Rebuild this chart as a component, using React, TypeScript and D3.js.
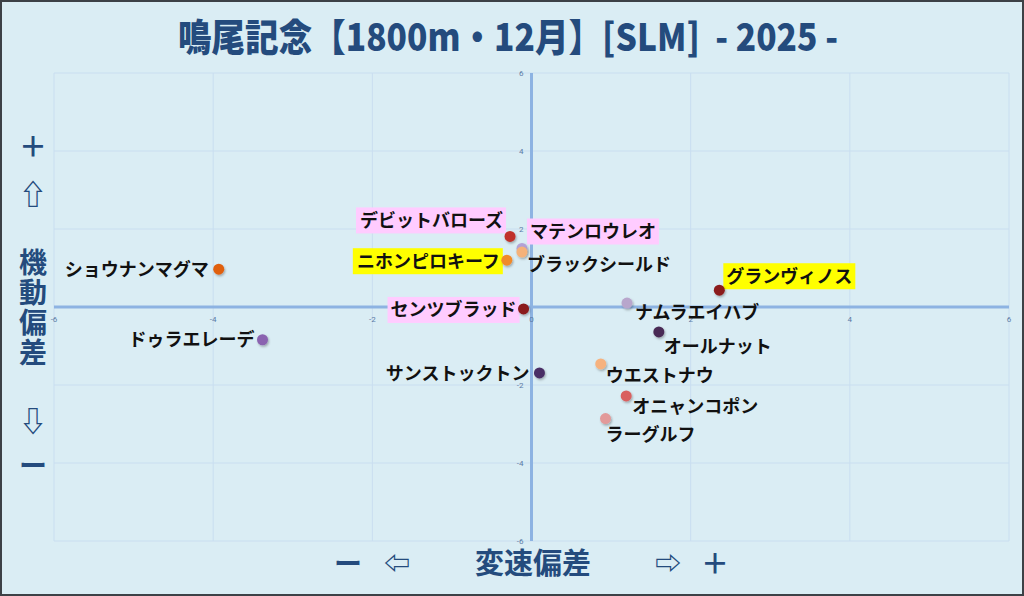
import React from 'react';
import * as d3 from 'd3';

const horses = [
  'デビットバローズ', 'マテンロウレオ', 'ブラックシールド', 'ニホンピロキーフ', 'センツブラッド',
  'ショウナンマグマ', 'ドゥラエレーデ', 'グランヴィノス', 'ナムラエイハブ', 'オールナット',
  'ウエストナウ', 'オニャンコポン', 'ラーグルフ', 'サンストックトン',
];
const speedDev = [-0.27, -0.12, -0.12, -0.31, -0.1, -3.93, -3.38, 2.36, 1.2, 1.6, 0.87, 1.19, 0.93, 0.1];
const mobilityDev = [1.81, 1.5, 1.41, 1.2, -0.05, 0.97, -0.84, 0.43, 0.1, -0.64, -1.46, -2.28, -2.86, -1.69];
const dotColors = [
  '#c0302a', '#b3a2d6', '#f5b27a', '#f08a2c', '#8a1a1a',
  '#e0600f', '#8a63b0', '#8b1c1c', '#b8a6cc', '#4a2a55',
  '#f6b27e', '#d96060', '#e29a9a', '#4a2d65',
];
const labelBg = ['#ffccff', '#ffccff', 'none', '#ffff00', '#ffccff', 'none', 'none', '#ffff00', 'none', 'none', 'none', 'none', 'none', 'none'];
// label offsets from dot: [dx, dy, anchor]
const labelOffsets: [number, number, 'start' | 'end'][] = [
  [-7, -16, 'end'], [8, -17, 'start'], [5, 13, 'start'], [-7, 1, 'end'], [-7, 1, 'end'],
  [-10, 0, 'end'], [-8, 0, 'end'], [7, -14, 'start'], [8, 9, 'start'], [5, 15, 'start'],
  [5, 12, 'start'], [6, 11, 'start'], [0, 16, 'start'], [-10, 1, 'end'],
];
const xTicks = [-6, -4, -2, 0, 2, 4, 6];
const yTicks = [-6, -4, -2, 0, 2, 4, 6];

const W = 1024;
const H = 596;
const BG = '#daedf4';
const NAVY = '#244b7d';
const JP = '"Noto Sans CJK JP", "Noto Sans", sans-serif';

export default function App() {
  const x = d3.scaleLinear().domain([-6, 6]).range([54, 1009]);
  const y = d3.scaleLinear().domain([-6, 6]).range([541, 73]);
  const fs = 18;

  const leftChars = ['＋', '⇧', '機', '動', '偏', '差', '⇩', 'ー'];
  const leftY = [147, 195, 263, 293, 323, 353, 422, 466];

  return (
    <svg width={W} height={H} style={{ position: 'absolute', left: 0, top: 0, display: 'block' }}>
      <defs>
        <filter id="sh" x="-50%" y="-50%" width="200%" height="200%">
          <feDropShadow dx="1" dy="1.5" stdDeviation="1.2" floodColor="#000" floodOpacity="0.3" />
        </filter>
      </defs>
      <rect x={0} y={0} width={W} height={H} fill={BG} />
      <rect x={1} y={1} width={W - 2} height={H - 2} fill="none" stroke="#3c4146" strokeWidth={2} />

      {/* grid */}
      {xTicks.map((t) => (
        <line key={'gx' + t} x1={x(t)} x2={x(t)} y1={y(6)} y2={y(-6)} stroke="#c9def0" strokeWidth={1} />
      ))}
      {yTicks.map((t) => (
        <line key={'gy' + t} x1={x(-6)} x2={x(6)} y1={y(t)} y2={y(t)} stroke="#c9def0" strokeWidth={1} />
      ))}
      {/* axes */}
      <line x1={x(-6)} x2={x(6)} y1={y(0)} y2={y(0)} stroke="#8db3e2" strokeWidth={3} />
      <line x1={x(0)} x2={x(0)} y1={y(6)} y2={y(-6)} stroke="#8db3e2" strokeWidth={3} />

      {/* tick labels */}
      {xTicks.map((t) => (
        <text key={'tx' + t} x={x(t)} y={y(0) + 15} fontSize={8} fill="#5b7aa5" textAnchor="middle" fontFamily="Roboto, sans-serif">
          {t}
        </text>
      ))}
      {yTicks.map((t) => (
        <text key={'ty' + t} x={x(0) - 8} y={y(t) + 3} fontSize={8} fill="#5b7aa5" textAnchor="end" fontFamily="Roboto, sans-serif">
          {t}
        </text>
      ))}

      {/* title */}
      <text
        x={508}
        y={51}
        fontSize={38}
        fontWeight={900}
        fill={NAVY}
        textAnchor="middle"
        fontFamily={JP}
        textLength={660}
        lengthAdjust="spacingAndGlyphs"
        style={{ whiteSpace: 'pre' }}
      >
        {'鳴尾記念【1800m・12月】[SLM]  - 2025 -'}
      </text>

      {/* left axis label */}
      {leftChars.map((c, i) => (
        <text key={'l' + i} x={33} y={leftY[i]} dy="0.36em" fontSize={28} fontWeight={700} fill={NAVY} textAnchor="middle" fontFamily={JP}>
          {c}
        </text>
      ))}

      {/* bottom axis label */}
      <text x={348} y={564} dy="0.36em" fontSize={28} fontWeight={700} fill={NAVY} textAnchor="middle" fontFamily={JP}>ー</text>
      <text x={397} y={564} dy="0.36em" fontSize={26} fontWeight={700} fill={NAVY} textAnchor="middle" fontFamily={JP}>⇦</text>
      <text x={533} y={564} dy="0.36em" fontSize={29} fontWeight={700} fill={NAVY} textAnchor="middle" fontFamily={JP}>変速偏差</text>
      <text x={668} y={564} dy="0.36em" fontSize={26} fontWeight={700} fill={NAVY} textAnchor="middle" fontFamily={JP}>⇨</text>
      <text x={715} y={564} dy="0.36em" fontSize={28} fontWeight={700} fill={NAVY} textAnchor="middle" fontFamily={JP}>＋</text>

      {/* labels */}
      {horses.map((h, i) => {
        const [dx, dy, anchor] = labelOffsets[i];
        const tx = x(speedDev[i]) + dx;
        const ty = y(mobilityDev[i]) + dy;
        const w = h.length * fs;
        const bx = anchor === 'end' ? tx - w - 3 : tx - 3;
        return (
          <g key={'lab' + i}>
            {labelBg[i] !== 'none' && (
              <rect x={bx} y={ty - 13} width={w + 6} height={26} fill={labelBg[i]} />
            )}
            <text x={tx} y={ty} dy="0.36em" fontSize={fs} fontWeight={700} fill="#111" textAnchor={anchor} fontFamily={JP}>
              {h}
            </text>
          </g>
        );
      })}

      {/* dots */}
      {horses.map((h, i) => (
        <circle key={'d' + i} cx={x(speedDev[i])} cy={y(mobilityDev[i])} r={5.5} fill={dotColors[i]} filter="url(#sh)" />
      ))}
    </svg>
  );
}
